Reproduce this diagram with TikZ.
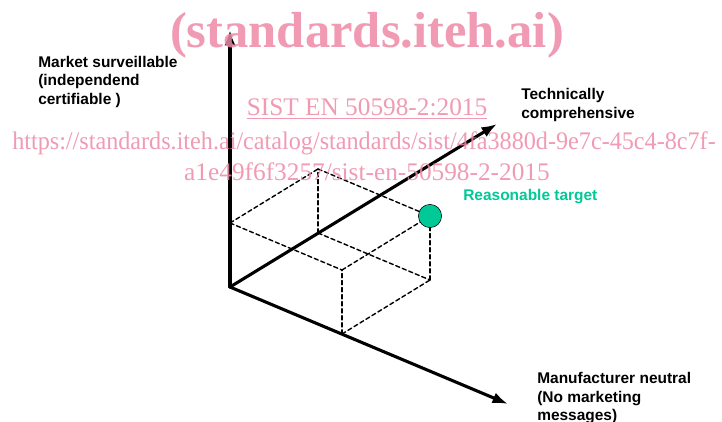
\documentclass[tikz,border=0pt]{standalone}
\usepackage{fontspec}
\setmainfont{Liberation Serif}
\newfontfamily\labelfont{Liberation Sans}
\usepackage{tkz-euclide}
\usetikzlibrary{arrows.meta}
\definecolor{targetgreen}{RGB}{0,200,150}
\definecolor{markpink}{RGB}{237,137,166}

\begin{document}
\begin{tikzpicture}[x=0.025cm, y=0.025cm,
    axislabel/.style={font=\labelfont\bfseries\fontsize{11}{13.2}\selectfont, align=left, anchor=west, inner sep=0pt},
    wmark/.style={text=markpink, text opacity=0.85, anchor=base, inner sep=0pt}]
    \useasboundingbox (0,0) rectangle (722,421);
    \clip (0,0) rectangle (722,421);
    % axes
    \tkzDefPoints{230/134/O,230/391/V,497/297/T,508/17/M}
    % corners of the box
    \tkzDefPoints{230/198/A,318/188/B,342/87/C,318/252/D,342/151/E,430/141/F,430/205/G}
    \tkzDrawSegments[line width=2.2pt, -{Latex[length=11pt,width=8pt]}](O,V O,T O,M)
    \tkzDrawSegments[line width=1pt, dash pattern=on 3pt off 2pt](A,D A,E D,G E,G B,D C,E F,G B,F C,F)
    \node[circle, draw, thin, fill=targetgreen, minimum size=16.5pt, inner sep=0pt] (target) at (G) {};
    % labels
    \node[axislabel] (surv) at (38,339) {Market surveillable\\(independend\\certifiable )};
    \node[axislabel] (tech) at (521,316) {Technically\\comprehensive};
    \node[axislabel, text=targetgreen] (reason) at (463,224) {Reasonable target};
    \node[axislabel, anchor=north west] (neutral) at (537,49) {Manufacturer neutral\\(No marketing\\messages)};
    % watermark
    \node[wmark, font=\bfseries\fontsize{36}{36}\selectfont] (site) at (367,373) {(standards.iteh.ai)};
    \node[wmark, font=\fontsize{18}{18}\selectfont] (sist) at (367,305) {\underline{SIST EN 50598-2:2015}};
    \node[wmark, font=\fontsize{18}{18}\selectfont, xscale=0.955] (url1) at (364,271) {https://standards.iteh.ai/catalog/standards/sist/4fa3880d-9e7c-45c4-8c7f-};
    \node[wmark, font=\fontsize{18}{18}\selectfont] (url2) at (367,240) {a1e49f6f3257/sist-en-50598-2-2015};
\end{tikzpicture}
\end{document}
